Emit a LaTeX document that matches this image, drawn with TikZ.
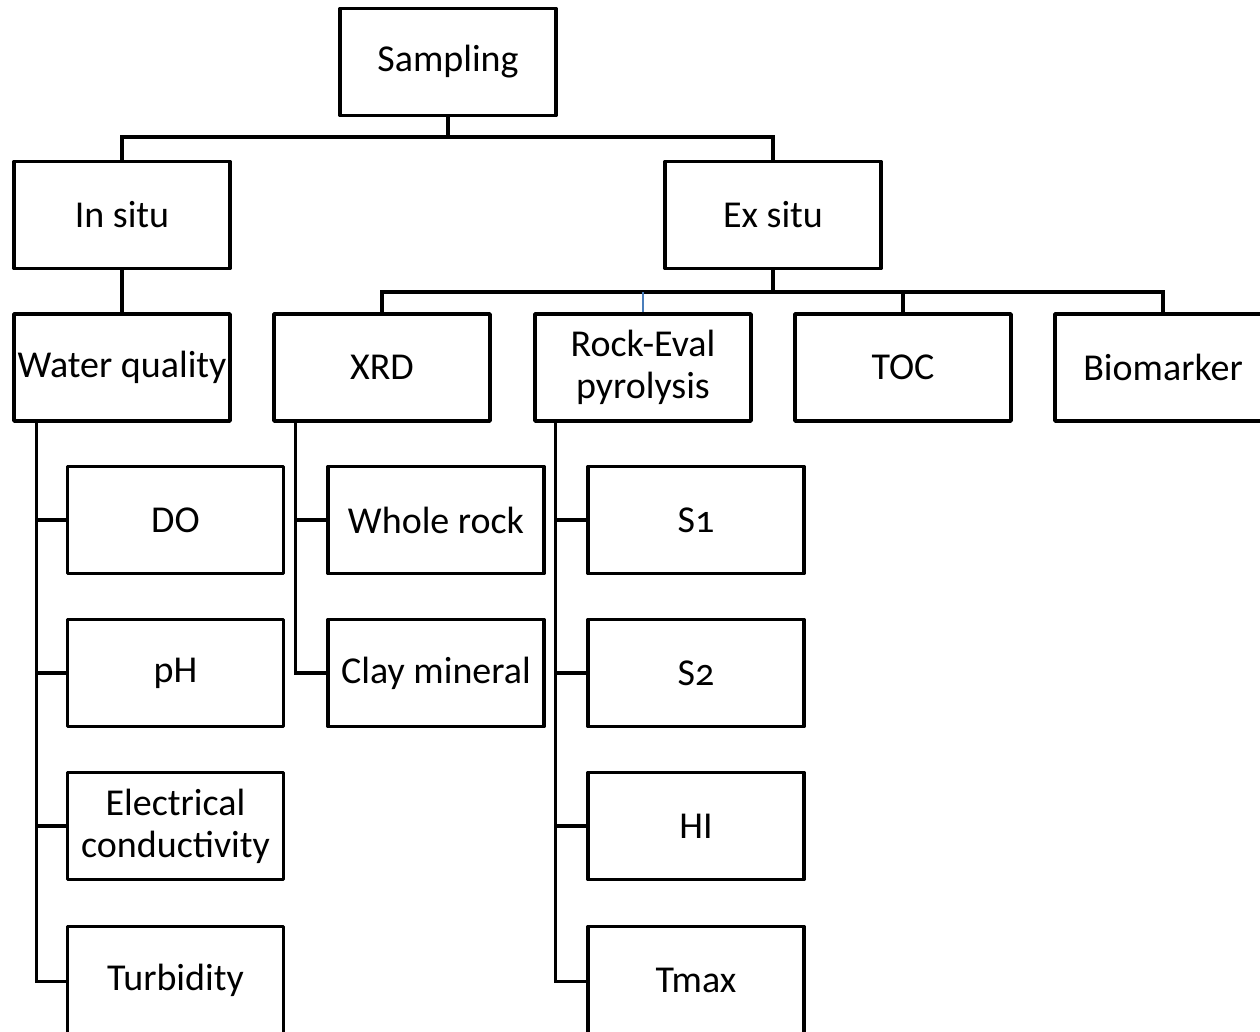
\documentclass[tikz,border=0pt]{standalone}
\usepackage{fontspec}
\setmainfont[Numbers=OldStyle]{Carlito}
\begin{document}
\begin{tikzpicture}[x=1pt,y=-1pt,
  box/.style={draw,line width=3.5pt,line join=round,minimum width=216pt,minimum height=107pt,inner sep=0pt,align=center,font=\fontsize{38}{42}\selectfont},
  conn/.style={line width=3.5pt},
  blueconn/.style={line width=2.5pt,draw={rgb,255:red,74;green,126;blue,187}}]
\useasboundingbox (0,0) rectangle (1260,1031);
\node[box] (samp) at (448,62) {Sampling};
\node[box] (insitu) at (122,215) {In situ};
\node[box] (exsitu) at (773,215) {Ex situ};
\node[box] (wq) at (122,367.5) {Water quality};
\node[box] (xrd) at (382,367.5) {XRD};
\node[box] (rock) at (643,367.5) {Rock-Eval\\pyrolysis};
\node[box] (toc) at (903,367.5) {TOC};
\node[box] (bio) at (1163,367.5) {Biomarker};
\node[box] (do) at (175.5,520) {DO};
\node[box] (ph) at (175.5,673) {pH};
\node[box] (ec) at (175.5,826) {Electrical\\conductivity};
\node[box] (turb) at (175.5,980) {Turbidity};
\node[box] (whole) at (436,520) {Whole rock};
\node[box] (clay) at (436,673) {Clay mineral};
\node[box] (s1) at (696,520) {S1};
\node[box] (s2) at (696,673) {S2};
\node[box] (hi) at (696,826) {HI};
\node[box] (tmax) at (696,980) {Tmax};
% top bus
\coordinate (bus1) at (448,137);
\draw[conn] (samp.south) -- (bus1);
\draw[conn] (insitu.north) |- (bus1);
\draw[conn] (exsitu.north) |- (bus1);
\draw[conn] (insitu.south) -- (wq.north);
% ex situ bus
\coordinate (bus2) at (773,292);
\draw[conn] (exsitu.south) -- (bus2);
\draw[conn] (xrd.north) |- (bus2);
\draw[conn] (toc.north) |- (bus2);
\draw[conn] (bio.north) |- (bus2);
\draw[blueconn] (rock.north) -- (rock.north |- bus2);
% water quality children
\coordinate (wqstem) at ([xshift=24pt]wq.south west);
\draw[conn] (wqstem) |- ([yshift=-1.5pt]turb.west);
\foreach \n in {do,ph,ec} \draw[conn] (\n.west) -- (\n.west -| wqstem);
% xrd children
\coordinate (xrdstem) at ([xshift=23pt]xrd.south west);
\draw[conn] (xrdstem) |- (clay.west);
\draw[conn] (whole.west) -- (whole.west -| xrdstem);
% rock children
\coordinate (rockstem) at ([xshift=22pt]rock.south west);
\draw[conn] (rockstem) |- ([yshift=-1.5pt]tmax.west);
\foreach \n in {s1,s2,hi} \draw[conn] (\n.west) -- (\n.west -| rockstem);
\end{tikzpicture}
\end{document}
